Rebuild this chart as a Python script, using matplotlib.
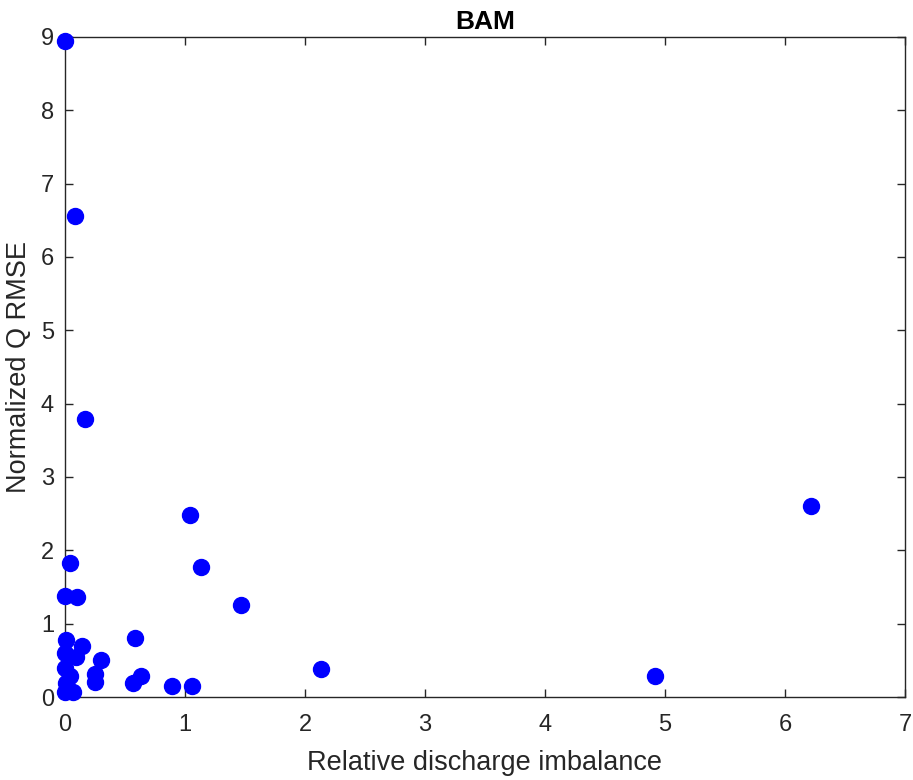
import matplotlib
matplotlib.use("Agg")
import matplotlib.pyplot as plt

plt.rcParams['font.family'] = ['Liberation Sans', 'DejaVu Sans']

imbalance = [0.04, 1.13, 0.00, 0.10, 1.47, 0.01, 0.58, 0.14, 0.00, 0.09, 0.30, 0.00,
             2.13, 0.25, 0.04, 0.63, 0.25, 0.57, 0.01, 0.89, 1.06, 0.00, 0.07,
             4.92, 6.22, 1.04, 0.17, 0.08, 0.00]
rmse = [1.83, 1.77, 1.38, 1.37, 1.26, 0.78, 0.81, 0.70, 0.60, 0.55, 0.50, 0.40,
        0.38, 0.32, 0.28, 0.29, 0.20, 0.19, 0.19, 0.15, 0.15, 0.07, 0.07,
        0.29, 2.61, 2.48, 3.79, 6.56, 8.95]

xticks = [0, 1, 2, 3, 4, 5, 6, 7]
yticks = [0, 1, 2, 3, 4, 5, 6, 7, 8, 9]

fig = plt.figure(figsize=(9.13, 7.8), dpi=100)
ax = fig.add_axes([0.0712, 0.1064, 0.9200, 0.8462])
ax.plot(imbalance, rmse, 'o', color='#0000ff', markersize=11.5, clip_on=False, zorder=3)
ax.set_xlim(0, 7)
ax.set_ylim(0, 9)
ax.set_xticks(xticks)
ax.set_yticks(yticks)
gray = '#262626'
ax.tick_params(direction='in', length=6, width=1, colors=gray, labelsize=17,
               top=True, right=True, labelcolor=gray)
ax.tick_params(axis='x', pad=12)
ax.tick_params(axis='y', pad=8)
for s in ax.spines.values():
    s.set_color(gray)
    s.set_linewidth(1)
ax.set_xlabel('Relative discharge imbalance', fontsize=19.5, color=gray, labelpad=10)
ax.set_ylabel('Normalized Q RMSE', fontsize=19.5, color=gray, labelpad=6)
ax.set_title('BAM', fontsize=19, fontweight='bold', color='black', pad=6)
fig.savefig('out.png', dpi=100)
